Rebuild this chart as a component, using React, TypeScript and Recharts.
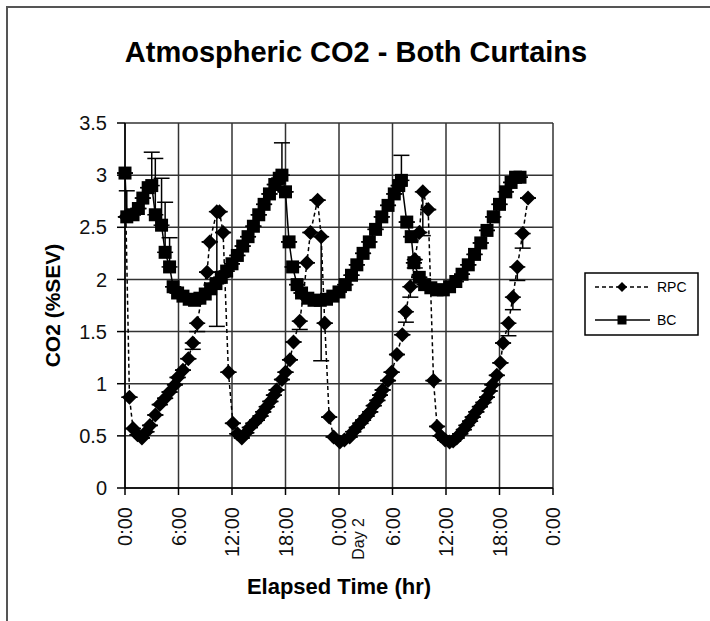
import React from 'react';
import { ScatterChart, Scatter, XAxis, YAxis, CartesianGrid, ErrorBar } from 'recharts';

// [elapsed hours, CO2 %SEV]
const rpcPoints: [number, number][] = [
  [0.1, 2.6], [0.5, 0.87], [0.9, 0.57], [1.4, 0.51], [1.9, 0.48], [2.4, 0.54], [2.8, 0.6],
  [3.4, 0.7], [3.9, 0.8], [4.5, 0.86], [5.0, 0.92], [5.6, 0.99], [5.9, 1.06], [6.5, 1.13],
  [7.1, 1.24], [7.6, 1.39], [8.1, 1.58], [8.6, 1.83], [9.2, 2.07], [9.5, 2.36], [10.3, 2.65],
  [10.6, 2.65], [11.0, 2.45], [11.6, 1.11], [12.1, 0.62], [12.6, 0.52], [13.1, 0.48],
  [13.6, 0.53], [14.0, 0.58], [14.4, 0.62], [14.8, 0.65], [15.2, 0.69], [15.5, 0.73],
  [15.9, 0.78], [16.3, 0.83], [16.7, 0.89], [17.0, 0.94], [17.6, 1.04], [18.0, 1.11],
  [18.5, 1.23], [18.9, 1.4], [19.6, 1.6], [20.0, 1.85], [20.4, 2.16], [20.8, 2.45],
  [21.6, 2.76], [22.0, 2.41], [22.4, 1.58], [22.9, 0.68], [23.4, 0.49], [24.1, 0.44],
  [24.6, 0.46], [25.2, 0.49], [25.6, 0.54], [26.0, 0.58], [26.4, 0.62], [26.7, 0.65],
  [27.1, 0.69], [27.5, 0.73], [27.9, 0.79], [28.3, 0.84], [28.6, 0.89], [28.9, 0.94],
  [29.5, 1.03], [29.9, 1.11], [30.5, 1.28], [31.1, 1.47], [31.5, 1.69], [32.0, 1.93],
  [32.5, 2.19], [33.0, 2.45], [33.4, 2.84], [34.0, 2.67], [34.6, 1.03], [35.0, 0.59],
  [35.4, 0.5], [35.9, 0.46], [36.4, 0.44], [36.8, 0.45], [37.2, 0.48], [37.6, 0.52],
  [38.0, 0.56], [38.3, 0.6], [38.7, 0.64], [39.0, 0.68], [39.4, 0.73], [39.8, 0.78],
  [40.2, 0.82], [40.6, 0.87], [40.9, 0.93], [41.2, 0.99], [41.7, 1.08], [42.1, 1.2],
  [42.4, 1.39], [43.0, 1.58], [43.5, 1.83], [44.0, 2.12], [44.6, 2.44], [45.2, 2.78],
];

const bcPoints: [number, number][] = [
  [0.0, 3.02], [0.2, 2.6], [0.9, 2.62], [1.5, 2.68], [2.0, 2.78], [2.6, 2.88], [3.0, 2.9],
  [3.4, 2.62], [4.1, 2.52], [4.5, 2.26], [5.0, 2.12], [5.4, 1.93], [5.9, 1.87], [6.5, 1.84],
  [7.2, 1.81], [7.8, 1.8], [8.4, 1.82], [9.0, 1.86], [9.6, 1.91], [10.2, 1.96], [10.8, 2.02],
  [11.4, 2.08], [12.0, 2.15], [12.6, 2.23], [13.2, 2.32], [13.8, 2.41], [14.4, 2.51],
  [15.0, 2.62], [15.6, 2.72], [16.2, 2.82], [16.8, 2.91], [17.3, 2.97], [17.6, 3.0],
  [18.0, 2.84], [18.4, 2.36], [18.8, 2.12], [19.3, 1.95], [19.8, 1.87], [20.5, 1.82],
  [21.2, 1.8], [21.9, 1.8], [22.6, 1.81], [23.3, 1.84], [24.0, 1.88], [24.7, 1.95],
  [25.4, 2.04], [26.0, 2.14], [26.7, 2.25], [27.4, 2.36], [28.1, 2.48], [28.8, 2.6],
  [29.5, 2.71], [30.2, 2.82], [30.7, 2.9], [31.0, 2.95], [31.6, 2.55], [32.1, 2.41],
  [32.4, 2.16], [33.0, 2.02], [33.6, 1.95], [34.3, 1.92], [35.0, 1.9], [35.7, 1.9],
  [36.4, 1.93], [37.1, 1.98], [37.8, 2.05], [38.5, 2.14], [39.2, 2.24], [39.9, 2.35],
  [40.6, 2.47], [41.3, 2.6], [42.0, 2.72], [42.7, 2.84], [43.3, 2.93], [43.8, 2.98],
  [44.3, 2.98],
];

// [hour, minus, plus]
const rpcErrors: [number, number, number][] = [
  [7.6, 0.06, 0], [8.1, 0.08, 0], [10.3, 1.1, 0], [19.6, 0.08, 0], [22.0, 1.19, 0],
  [31.5, 0.1, 0], [32.0, 0.1, 0], [32.5, 0.08, 0], [33.4, 0.42, 0], [43.0, 0.12, 0],
  [43.5, 0.12, 0], [44.0, 0.13, 0], [44.6, 0.14, 0],
];

const bcErrors: [number, number, number][] = [
  [0.2, 0, 0.25], [3.0, 0, 0.32], [3.4, 0, 0.54], [4.1, 0, 0.45], [4.5, 0, 0.48],
  [5.0, 0, 0.28], [17.6, 0, 0.31], [31.0, 0, 0.24],
];

const xTicks = [0, 6, 12, 18, 24, 30, 36, 42, 48];
const yTicks = [0, 0.5, 1, 1.5, 2, 2.5, 3, 3.5];

const FONT = '"Liberation Sans", Arial, sans-serif';

const withErrors = (points: [number, number][], errors: [number, number, number][]) =>
  points.map(([t, v]) => {
    const e = errors.find((x) => x[0] === t);
    return { t, v, e: e ? [e[1], e[2]] : [0, 0] };
  });

const rpcData = withErrors(rpcPoints, rpcErrors);
const bcData = withErrors(bcPoints, bcErrors);

const Diamond = (props: any) => {
  const { cx, cy } = props;
  const r = 7.5;
  return <polygon points={`${cx},${cy - r} ${cx + r},${cy} ${cx},${cy + r} ${cx - r},${cy}`} fill="#000" />;
};

const Square = (props: any) => {
  const { cx, cy } = props;
  const s = 13;
  return <rect x={cx - s / 2} y={cy - s / 2} width={s} height={s} fill="#000" />;
};

const hourLabel = (h: number) => `${h % 24}:00`;

const TimeTick = (props: any) => {
  const { x, y, payload } = props;
  return (
    <g transform={`translate(${x},${y})`}>
      <text
        transform="rotate(-90)"
        x={-12}
        y={0}
        textAnchor="end"
        dominantBaseline="central"
        fontSize={20}
        fontFamily={FONT}
        fill="#111"
      >
        {hourLabel(payload.value)}
      </text>
      {payload.value === 24 && (
        <text
          transform="rotate(-90)"
          x={-23}
          y={19}
          textAnchor="end"
          dominantBaseline="central"
          fontSize={16}
          fontFamily={FONT}
          fill="#111"
        >
          Day 2
        </text>
      )}
    </g>
  );
};

const XLabel = (props: any) => {
  const { viewBox } = props;
  return (
    <text
      x={viewBox.x + viewBox.width / 2}
      y={viewBox.y + 98}
      textAnchor="middle"
      dominantBaseline="central"
      fontSize={22}
      fontWeight="bold"
      fontFamily={FONT}
      fill="#000"
    >
      Elapsed Time (hr)
    </text>
  );
};

const YLabel = (props: any) => {
  const { viewBox } = props;
  const x = viewBox.x - 13;
  const y = viewBox.y + viewBox.height / 2;
  return (
    <text
      x={x}
      y={y}
      transform={`rotate(-90, ${x}, ${y})`}
      textAnchor="middle"
      dominantBaseline="central"
      fontSize={21}
      fontWeight="bold"
      fontFamily={FONT}
      fill="#000"
    >
      CO2 (%SEV)
    </text>
  );
};

export default function App() {
  return (
    <div style={{ position: 'absolute', left: 0, top: 0, width: 710, height: 621, background: '#fff' }}>
      <ScatterChart width={710} height={621} margin={{ top: 123, right: 157, bottom: 53, left: 65 }}>
        <CartesianGrid stroke="#333" strokeWidth={1.5} />
        <XAxis
          type="number"
          dataKey="t"
          domain={[0, 48]}
          ticks={xTicks}
          interval={0}
          height={80}
          tickSize={7}
          tickMargin={0}
          stroke="#000"
          strokeWidth={1.5}
          tick={<TimeTick />}
          label={<XLabel />}
        />
        <YAxis
          type="number"
          dataKey="v"
          domain={[0, 3.5]}
          ticks={yTicks}
          interval={0}
          width={60}
          tickSize={8}
          tickMargin={10}
          stroke="#000"
          strokeWidth={1.5}
          tick={{ fontSize: 20, fontFamily: FONT, fill: '#111' }}
          label={<YLabel />}
        />
        <Scatter
          name="RPC"
          data={rpcData}
          line={{ stroke: '#000', strokeWidth: 1.5, strokeDasharray: '4 3' }}
          lineType="joint"
          shape={<Diamond />}
          isAnimationActive={false}
        >
          <ErrorBar dataKey="e" direction="y" width={8} stroke="#000" strokeWidth={1.5} />
        </Scatter>
        <Scatter
          name="BC"
          data={bcData}
          line={{ stroke: '#000', strokeWidth: 1.5 }}
          lineType="joint"
          shape={<Square />}
          isAnimationActive={false}
        >
          <ErrorBar dataKey="e" direction="y" width={8} stroke="#000" strokeWidth={1.5} />
        </Scatter>
      </ScatterChart>
      <svg
        width={710}
        height={621}
        style={{ position: 'absolute', left: 0, top: 0, pointerEvents: 'none' }}
      >
        <path d="M7,621 L7,7 L710,7" fill="none" stroke="#555" strokeWidth={2} />
        <text x={356} y={62} textAnchor="middle" fontSize={29} fontWeight="bold" fontFamily={FONT} fill="#000">
          Atmospheric CO2 - Both Curtains
        </text>
        <g transform="translate(585,273)">
          <rect x={0} y={0} width={113} height={62} fill="#fff" stroke="#000" strokeWidth={1.5} />
          <line x1={10} y1={14} x2={65} y2={14} stroke="#000" strokeWidth={1.5} strokeDasharray="4 3" />
          <polygon points="37,9 42,14 37,19 32,14" fill="#000" />
          <text x={72} y={14} dominantBaseline="central" fontSize={14} fontFamily={FONT} fill="#000">
            RPC
          </text>
          <line x1={10} y1={47} x2={65} y2={47} stroke="#000" strokeWidth={1.5} />
          <rect x={32.5} y={42.5} width={9} height={9} fill="#000" />
          <text x={72} y={47} dominantBaseline="central" fontSize={14} fontFamily={FONT} fill="#000">
            BC
          </text>
        </g>
      </svg>
    </div>
  );
}
